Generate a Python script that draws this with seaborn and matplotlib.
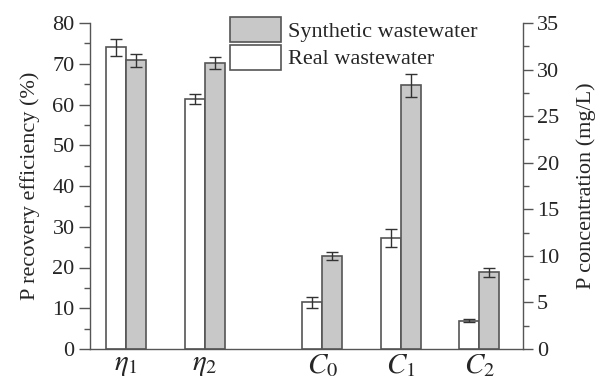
import numpy as np
import pandas as pd
import matplotlib
matplotlib.use("Agg")
import matplotlib.pyplot as plt
import seaborn as sns
from matplotlib.patches import Patch
from matplotlib.ticker import MultipleLocator

# ---- data ----
eff_labels = [r"$\eta_1$", r"$\eta_2$"]
eff_pos = [0.0, 1.0]
eff_real = [74.0, 61.3]
eff_real_err = [2.0, 1.2]
eff_syn = [70.8, 70.1]
eff_syn_err = [1.5, 1.5]

conc_labels = [r"$C_0$", r"$C_1$", r"$C_2$"]
conc_pos = [2.5, 3.5, 4.5]
conc_real = [5.0, 11.9, 3.05]
conc_real_err = [0.62, 0.97, 0.15]
conc_syn = [10.0, 28.3, 8.25]
conc_syn_err = [0.45, 1.25, 0.48]

series = ["Real wastewater", "Synthetic wastewater"]

sns.set_style("ticks")
plt.rcParams["font.family"] = ["Liberation Serif", "DejaVu Serif"]
plt.rcParams["mathtext.fontset"] = "stix"

edge = "#555555"
colors = {"Real wastewater": "#ffffff", "Synthetic wastewater": "#c8c8c8"}

fig = plt.figure(figsize=(5.98, 3.80), dpi=100)
ax = fig.add_axes([90/598, 1-349/380, 433/598, 326/380])
ax2 = ax.twinx()

df1 = pd.DataFrame({
    "x": eff_pos * 2,
    "val": eff_real + eff_syn,
    "err": eff_real_err + eff_syn_err,
    "s": [series[0]] * 2 + [series[1]] * 2,
})
df2 = pd.DataFrame({
    "x": conc_pos * 2,
    "val": conc_real + conc_syn,
    "err": conc_real_err + conc_syn_err,
    "s": [series[0]] * 3 + [series[1]] * 3,
})

for a, df in [(ax, df1), (ax2, df2)]:
    sns.barplot(data=df, x="x", y="val", hue="s", hue_order=series,
                palette=colors, native_scale=True, width=0.51,
                errorbar=None, edgecolor=edge, linewidth=1.2,
                legend=False, ax=a, saturation=1)
    patches = [p for p in a.patches]
    for p, (_, row) in zip(patches, df.iterrows()):
        cx = p.get_x() + p.get_width() / 2
        a.errorbar(cx, p.get_height(), yerr=row["err"], fmt="none",
                   ecolor="#333333", elinewidth=1.0, capsize=4, capthick=1.0)

ax.set_xlim(-0.46, 5.06)
ax.set_ylim(0, 80)
ax2.set_ylim(0, 35)
ax.yaxis.set_major_locator(MultipleLocator(10))
ax.yaxis.set_minor_locator(MultipleLocator(5))
ax2.yaxis.set_major_locator(MultipleLocator(5))
ax2.yaxis.set_minor_locator(MultipleLocator(2.5))

ax.set_xticks(eff_pos + conc_pos)
ax.set_xticklabels(eff_labels + conc_labels, fontsize=21)
ax.tick_params(axis="x", length=0, pad=2)
ax.tick_params(axis="y", which="major", direction="out", length=8, width=1,
               labelsize=16, color=edge, pad=3)
ax.tick_params(axis="y", which="minor", direction="out", length=4, width=1, color=edge)
ax2.tick_params(axis="y", which="major", direction="out", length=7, width=1,
                labelsize=16, color=edge, pad=3)
ax2.tick_params(axis="y", which="minor", direction="out", length=4, width=1, color=edge)

ax.set_xlabel("")
ax2.set_xlabel("")
ax.set_ylabel("P recovery efficiency (%)", fontsize=16, labelpad=9)
ax2.set_ylabel("P concentration (mg/L)", fontsize=16, labelpad=12)

for a in (ax, ax2):
    a.spines["top"].set_visible(False)
    for s in ["left", "right", "bottom"]:
        a.spines[s].set_color(edge)
        a.spines[s].set_linewidth(1.0)
ax.spines["right"].set_visible(False)
ax2.spines["left"].set_visible(False)
ax2.spines["bottom"].set_visible(False)

handles = [Patch(facecolor=colors[series[1]], edgecolor=edge, linewidth=1.2),
           Patch(facecolor=colors[series[0]], edgecolor=edge, linewidth=1.2)]
leg = fig.legend(handles, [series[1], series[0]], loc="upper left",
                 bbox_to_anchor=(230/598, 1-17/380), frameon=False,
                 fontsize=16, handlelength=2.3, handleheight=1.35,
                 handletextpad=0.3, labelspacing=0.12, borderaxespad=0,
                 borderpad=0)

fig.savefig("out.png", dpi=100)
